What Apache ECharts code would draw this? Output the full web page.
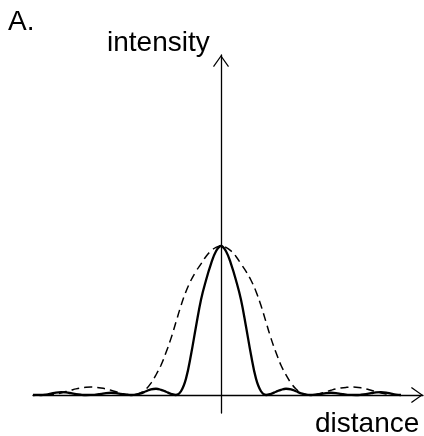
<!DOCTYPE html>
<html>
<head>
<meta charset="utf-8">
<script src="https://cdn.jsdelivr.net/npm/echarts@6/dist/echarts.min.js"></script>
<style>
html,body{margin:0;padding:0;background:#fff;}
#chart{width:424px;height:436px;}
</style>
</head>
<body>
<div id="chart"></div>
<script>
// distance from the centre (horizontal position)
var distance = [-188, -185, -180, -175, -170, -165, -160, -155, -150, -145, -140, -135, -130, -125, -120, -115, -110, -105, -100, -95, -90, -85, -80, -75, -70, -65, -60, -55, -50, -45, -40, -35, -30, -25, -20, -15, -10, -5,
  0,
  5, 10, 15, 20, 25, 30, 35, 40, 45, 50, 55, 60, 65, 70, 75, 80, 85, 90, 95, 100, 105, 110, 115, 120, 125, 130, 135, 140, 145, 150, 155, 160, 165, 170, 175, 180];

// solid curve (narrow central peak with side lobes)
var solidIntensity = [0, 0.001, 0, 0.003, 0.009, 0.016, 0.019, 0.017, 0.012, 0.006, 0.002, 0, 0.001, 0.003, 0.008, 0.013, 0.015, 0.013, 0.008, 0.003, 0, 0.002, 0.011, 0.025, 0.038, 0.042, 0.035, 0.022, 0.008, 0, 0.025, 0.11, 0.27, 0.46, 0.64, 0.77, 0.88, 0.965,
  1,
  0.965, 0.88, 0.77, 0.64, 0.46, 0.27, 0.11, 0.025, 0, 0.008, 0.022, 0.035, 0.042, 0.038, 0.025, 0.011, 0.002, 0, 0.003, 0.008, 0.013, 0.015, 0.013, 0.008, 0.003, 0.001, 0, 0.002, 0.006, 0.012, 0.017, 0.019, 0.016, 0.009, 0.003, 0];

// dashed curve (wide central peak)
var dashedIntensity = [0, 0.001, 0, 0.001, 0.003, 0.007, 0.014, 0.023, 0.032, 0.041, 0.048, 0.052, 0.053, 0.051, 0.047, 0.041, 0.032, 0.022, 0.012, 0.004, 0, 0.004, 0.016, 0.04, 0.08, 0.135, 0.2, 0.285, 0.38, 0.49, 0.6, 0.695, 0.77, 0.83, 0.88, 0.93, 0.967, 0.991,
  1,
  0.991, 0.967, 0.93, 0.88, 0.83, 0.77, 0.695, 0.6, 0.49, 0.38, 0.285, 0.2, 0.135, 0.08, 0.04, 0.016, 0.004, 0, 0.004, 0.012, 0.022, 0.032, 0.041, 0.047, 0.051, 0.053, 0.052, 0.048, 0.041, 0.032, 0.023, 0.014, 0.007, 0.003, 0.001, 0];

var panelLabel = 'A.';
var yAxisTitle = 'intensity';
var xAxisTitle = 'distance';

var chart = echarts.init(document.getElementById('chart'), null, {renderer: 'canvas'});
var chevron = 'path://M8,0 L16,11.2 L15,12 L8,2 L1,12 L0,11.2 Z';
var font = '28px "Liberation Sans", Arial, sans-serif';

chart.setOption({
  animation: false,
  backgroundColor: '#fff',
  grid: {left: 33, top: 55, width: 390, height: 358},
  xAxis: {
    type: 'value', min: -188, max: 202,
    axisLine: {show: true, onZero: true, lineStyle: {color: '#000', width: 1.3},
      symbol: ['none', chevron], symbolSize: [16, 12], symbolOffset: [0, -6]},
    axisTick: {show: false}, axisLabel: {show: false}, splitLine: {show: false}
  },
  yAxis: {
    type: 'value', min: -0.1208, max: 2.2819,
    axisLine: {show: true, onZero: true, lineStyle: {color: '#000', width: 1.3},
      symbol: ['none', chevron], symbolSize: [16, 12], symbolOffset: [0, -6]},
    axisTick: {show: false}, axisLabel: {show: false}, splitLine: {show: false}
  },
  series: [
    {
      type: 'line', name: 'dashed', showSymbol: false, smooth: 0.4,
      data: distance.map(function (d, i) { return [d, dashedIntensity[i]]; }),
      lineStyle: {color: '#000', width: 1.5, type: [8, 5]}, z: 3
    },
    {
      type: 'line', name: 'solid', showSymbol: false, smooth: 0.4,
      data: distance.map(function (d, i) { return [d, solidIntensity[i]]; }),
      lineStyle: {color: '#000', width: 2.3}, z: 4
    }
  ],
  graphic: [
    {type: 'text', left: 8, top: 8, style: {text: panelLabel, font: font, fill: '#000'}},
    {type: 'text', left: 107, top: 29, style: {text: yAxisTitle, font: font, fill: '#000'}},
    {type: 'text', left: 315, top: 410, style: {text: xAxisTitle, font: font, fill: '#000'}}
  ]
});
</script>
</body>
</html>
